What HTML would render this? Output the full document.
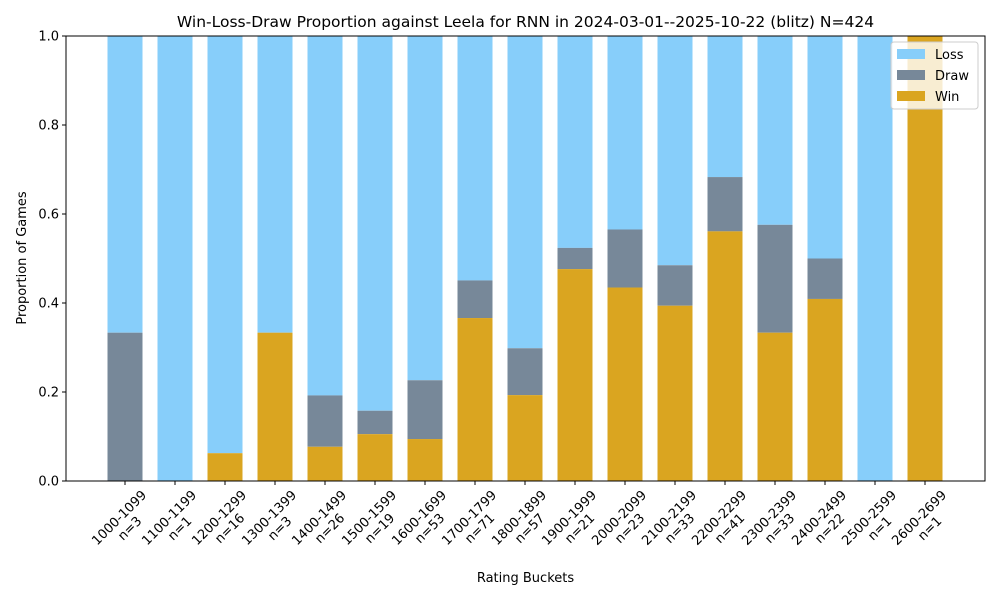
<!DOCTYPE html>
<html><head><meta charset="utf-8"><style>
body{margin:0;background:#fff}
svg text{font-family:"DejaVu Sans","Liberation Sans",sans-serif;fill:#000}
</style></head><body>
<svg id="c" width="1000" height="600" xmlns="http://www.w3.org/2000/svg"></svg>
<script>
const buckets=["1000-1099","1100-1199","1200-1299","1300-1399","1400-1499","1500-1599","1600-1699","1700-1799","1800-1899","1900-1999","2000-2099","2100-2199","2200-2299","2300-2399","2400-2499","2500-2599","2600-2699"];
const counts=[3,1,16,3,26,19,53,71,57,21,23,33,41,33,22,1,1];
const winProp=[0,0,0.0625,0.3333,0.0769,0.1053,0.0943,0.3662,0.193,0.4762,0.4348,0.3939,0.561,0.3333,0.4091,0,1];
const drawProp=[0.3333,0,0,0,0.1154,0.0526,0.1321,0.0845,0.1053,0.0476,0.1304,0.0909,0.122,0.2424,0.0909,0,0];
const yTicks=[0,0.2,0.4,0.6,0.8,1.0];
const NS="http://www.w3.org/2000/svg";
const svg=document.getElementById('c');
const L=66,R=985,T=36,B=481;
const xs=i=>L+(i+1.18)*(R-L)/18.38;
const ys=v=>B-v*(B-T);
const bw=35;
function el(t,a){const e=document.createElementNS(NS,t);for(const k in a)e.setAttribute(k,a[k]);svg.appendChild(e);return e;}
buckets.forEach((b,i)=>{
  const w=winProp[i],d=drawProp[i],l=1-w-d,x=xs(i)-bw/2;
  let r=el('rect',{x:x,y:ys(1),width:bw,height:ys(w+d)-ys(1),fill:'#87cefa'});
  
  r=el('rect',{x:x,y:ys(w+d),width:bw,height:ys(w)-ys(w+d),fill:'#778899'});
  
  r=el('rect',{x:x,y:ys(w),width:bw,height:ys(0)-ys(w),fill:'#daa520'});
  
});
const frame=el('rect',{x:L,y:T,width:R-L,height:B-T,fill:'none',stroke:'#000','stroke-width':1});

yTicks.forEach(v=>{
  el('line',{x1:L-4,x2:L,y1:ys(v),y2:ys(v),stroke:'#000'});
  const t=el('text',{x:L-7,y:ys(v)+4.5,'text-anchor':'end','font-size':13});
  t.textContent=v.toFixed(1);
  
});
buckets.forEach((b,i)=>{
  const x=xs(i);
  el('line',{x1:x,x2:x,y1:B,y2:B+4,stroke:'#000'});
  const g=document.createElementNS(NS,'g');svg.appendChild(g);
  
  const t1=document.createElementNS(NS,'text');t1.setAttribute('font-size',13);t1.setAttribute('text-anchor','middle');t1.setAttribute('y',0);t1.textContent=b;g.appendChild(t1);
  const t2=document.createElementNS(NS,'text');t2.setAttribute('font-size',13);t2.setAttribute('text-anchor','middle');t2.setAttribute('y',15);t2.textContent='n='+counts[i];g.appendChild(t2);
  g.setAttribute('transform','rotate(-45)');
  const bb=g.getBoundingClientRect();
  const cx=(bb.left+bb.right)/2, top=bb.top;
  g.setAttribute('transform',`translate(${x-cx},${488-top}) rotate(-45)`);
});
let t=el('text',{x:525.5,y:27,'text-anchor':'middle','font-size':15.5});
t.textContent='Win-Loss-Draw Proportion against Leela for RNN in 2024-03-01--2025-10-22 (blitz) N=424';

t=el('text',{x:525.5,y:582,'text-anchor':'middle','font-size':13});t.textContent='Rating Buckets';

t=el('text',{x:0,y:0,'text-anchor':'middle','font-size':13,transform:'translate(26,258) rotate(-90)'});t.textContent='Proportion of Games';

const lg=el('rect',{x:891,y:42,width:87,height:67,fill:'#fff','fill-opacity':0.8,stroke:'#ccc',rx:3});

[['Loss','#87cefa'],['Draw','#778899'],['Win','#daa520']].forEach((e,k)=>{
  const y=49+k*21;
  const r=el('rect',{x:897,y:y,width:28,height:10,fill:e[1]});
  
  const tx=el('text',{x:935,y:y+10,'font-size':13});tx.textContent=e[0];
  
});
</script>
</body></html>
